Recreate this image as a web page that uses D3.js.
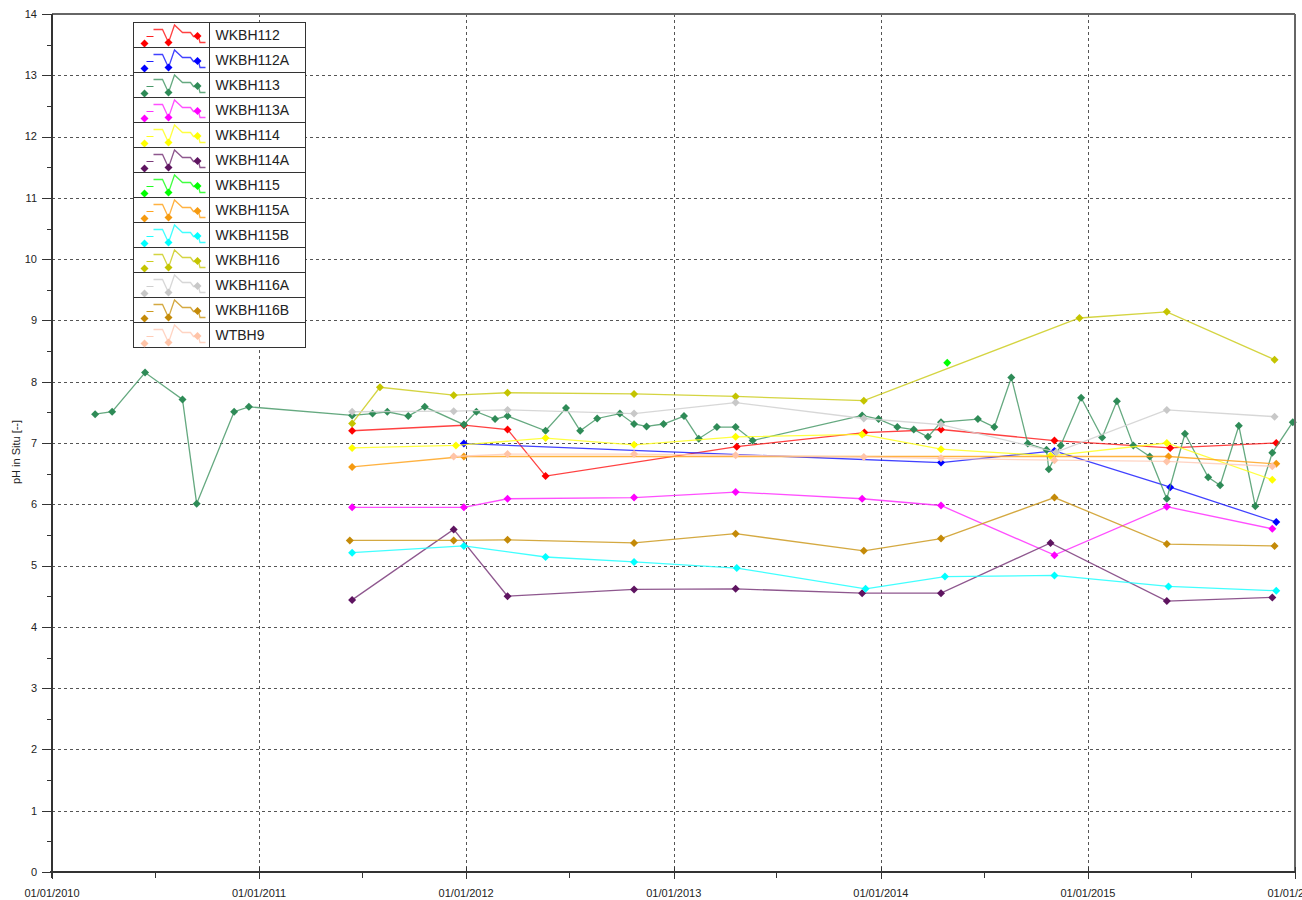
<!DOCTYPE html>
<html>
<head>
<meta charset="utf-8">
<script src="https://cdn.jsdelivr.net/npm/d3@7"></script>
<style>
  body { margin: 0; background: #fff; }
  svg { display: block; font-family: Arial, "Liberation Sans", sans-serif; }
</style>
</head>
<body>
<svg id="chart"></svg>
<script>
// ===========================
// 1. Data
// ===========================
const seriesNames = ["WKBH112", "WKBH112A", "WKBH113", "WKBH113A", "WKBH114", "WKBH114A",
  "WKBH115", "WKBH115A", "WKBH115B", "WKBH116", "WKBH116A", "WKBH116B", "WTBH9"];

const WKBH112 = [["2011-06-14",7.20],["2011-12-28",7.29],["2012-03-14",7.22],["2012-05-20",6.46],
  ["2013-04-22",6.94],["2013-12-03",7.17],["2014-04-17",7.22],["2014-11-03",7.04],["2015-05-26",6.92],["2015-11-29",7.00]];

const WKBH112A = [["2011-12-28",6.99],["2014-04-17",6.68],["2014-11-03",6.87],["2015-05-26",6.28],["2015-11-29",5.71]];

const WKBH113 = [["2010-03-18",7.47],["2010-04-17",7.51],["2010-06-14",8.15],["2010-08-19",7.71],["2010-09-13",6.01],
  ["2010-11-18",7.51],["2010-12-14",7.59],["2011-06-14",7.45],["2011-07-20",7.48],["2011-08-15",7.51],
  ["2011-09-21",7.44],["2011-10-20",7.59],["2011-12-28",7.30],["2012-01-19",7.51],["2012-02-21",7.39],
  ["2012-03-14",7.44],["2012-05-20",7.20],["2012-06-25",7.57],["2012-07-20",7.20],["2012-08-19",7.40],
  ["2012-09-28",7.48],["2012-10-23",7.31],["2012-11-14",7.27],["2012-12-14",7.31],["2013-01-19",7.44],
  ["2013-02-14",7.07],["2013-03-18",7.26],["2013-04-20",7.26],["2013-05-20",7.04],["2013-11-29",7.45],
  ["2013-12-28",7.39],["2014-01-30",7.26],["2014-02-28",7.22],["2014-03-25",7.10],["2014-04-17",7.34],
  ["2014-06-21",7.39],["2014-07-20",7.26],["2014-08-19",8.07],["2014-09-17",6.99],["2014-10-20",6.89],
  ["2014-10-24",6.57],["2014-11-14",6.96],["2014-12-20",7.74],["2015-01-26",7.09],["2015-02-21",7.68],
  ["2015-03-22",6.96],["2015-04-20",6.78],["2015-05-20",6.09],["2015-06-21",7.15],["2015-08-01",6.44],
  ["2015-08-22",6.31],["2015-09-24",7.28],["2015-10-23",5.97],["2015-11-22",6.84],["2015-12-28",7.34]];

const WKBH113A = [["2011-06-14",5.95],["2011-12-28",5.95],["2012-03-14",6.09],["2012-10-23",6.11],["2013-04-20",6.20],
  ["2013-11-29",6.09],["2014-04-17",5.98],["2014-11-03",5.17],["2015-05-20",5.96],["2015-11-22",5.60]];

const WKBH114 = [["2011-06-14",6.92],["2011-12-14",6.96],["2012-05-20",7.08],["2012-10-23",6.97],["2013-04-20",7.10],
  ["2013-11-29",7.14],["2014-04-17",6.90],["2014-10-27",6.79],["2015-05-20",7.00],["2015-11-22",6.40]];

const WKBH114A = [["2011-06-14",4.44],["2011-12-10",5.59],["2012-03-14",4.50],["2012-10-23",4.61],["2013-04-20",4.62],
  ["2013-11-29",4.55],["2014-04-17",4.55],["2014-10-27",5.37],["2015-05-20",4.42],["2015-11-22",4.48]];

const WKBH115 = [["2014-04-28",8.31]];

const WKBH115A = [["2011-06-14",6.61],["2011-12-28",6.78],["2015-05-23",6.78],["2015-11-29",6.66]];

const WKBH115B = [["2011-06-14",5.21],["2011-12-28",5.32],["2012-05-20",5.14],["2012-10-23",5.06],["2013-04-22",4.96],
  ["2013-12-05",4.62],["2014-04-24",4.82],["2014-11-03",4.84],["2015-05-23",4.66],["2015-11-29",4.59]];

const WKBH116 = [["2011-06-14",7.32],["2011-08-02",7.91],["2011-12-10",7.78],["2012-03-14",7.82],["2012-10-23",7.80],
  ["2013-04-20",7.76],["2013-12-02",7.69],["2014-12-17",9.04],["2015-05-20",9.14],["2015-11-26",8.36]];

const WKBH116A = [["2011-06-14",7.51],["2011-12-10",7.52],["2012-03-14",7.54],["2012-10-23",7.48],["2013-04-20",7.66],
  ["2013-12-02",7.40],["2014-04-17",7.30],["2014-11-06",6.85],["2015-05-20",7.54],["2015-11-26",7.43]];

const WKBH116B = [["2011-06-10",5.41],["2011-12-10",5.41],["2012-03-14",5.42],["2012-10-23",5.37],["2013-04-20",5.52],
  ["2013-12-02",5.24],["2014-04-17",5.44],["2014-11-03",6.11],["2015-05-20",5.35],["2015-11-26",5.32]];

const WTBH9 = [["2011-12-10",6.78],["2012-03-14",6.82],["2012-10-23",6.82],["2013-04-20",6.80],["2013-12-02",6.77],
  ["2014-04-17",6.75],["2014-11-03",6.72],["2015-05-20",6.70],["2015-11-22",6.62]];

const seriesData = [WKBH112, WKBH112A, WKBH113, WKBH113A, WKBH114, WKBH114A,
  WKBH115, WKBH115A, WKBH115B, WKBH116, WKBH116A, WKBH116B, WTBH9];

// colours: [line, marker]
const seriesColors = {
  WKBH112: ["#ff2020", "#ff0000"],
  WKBH112A: ["#2020ff", "#0000ff"],
  WKBH113: ["#4a9a6a", "#2e8b57"],
  WKBH113A: ["#ff30ff", "#ff00ff"],
  WKBH114: ["#ffff20", "#ffff00"],
  WKBH114A: ["#7a3a7a", "#5e1460"],
  WKBH115: ["#20ff20", "#00ff00"],
  WKBH115A: ["#ffa520", "#f59a10"],
  WKBH115B: ["#20ffff", "#00ffff"],
  WKBH116: ["#cccc20", "#c4c400"],
  WKBH116A: ["#d0d0d0", "#c8c8c8"],
  WKBH116B: ["#cc9a20", "#c48a08"],
  WTBH9: ["#ffcdb8", "#ffc4a8"]
};

const yTicks = d3.range(0, 15);
const yGridValues = d3.range(1, 14);

// ===========================
// 2. Layout
// ===========================
const width = 1302, height = 900;
const plot = { left: 52, right: 1295, top: 14, bottom: 872 };
const parse = d3.timeParse("%Y-%m-%d");

const svg = d3.select("#chart")
  .attr("width", width)
  .attr("height", height);

svg.append("rect")
  .attr("width", width)
  .attr("height", height)
  .attr("fill", "#fff");

const x = d3.scaleTime()
  .domain([parse("2010-01-01"), parse("2016-01-01")])
  .range([plot.left, plot.right]);

const y = d3.scaleLinear()
  .domain([0, 14])
  .range([plot.bottom, plot.top]);

const yearTicks = x.ticks(d3.timeYear.every(1));
const halfYearTicks = x.ticks(d3.timeMonth.every(6)).filter(d => d.getMonth() === 6);

// ===========================
// 3. Grid
// ===========================
const grid = svg.append("g")
  .attr("stroke", "#555")
  .attr("stroke-width", 1)
  .attr("stroke-dasharray", "3,3");

grid.selectAll(".hgrid")
  .data(yGridValues)
  .enter()
  .append("line")
  .attr("x1", plot.left)
  .attr("x2", plot.right)
  .attr("y1", d => Math.round(y(d)) + 0.5)
  .attr("y2", d => Math.round(y(d)) + 0.5);

grid.selectAll(".vgrid")
  .data(yearTicks.slice(1, -1))
  .enter()
  .append("line")
  .attr("x1", d => Math.round(x(d)) + 0.5)
  .attr("x2", d => Math.round(x(d)) + 0.5)
  .attr("y1", plot.top)
  .attr("y2", plot.bottom);

// ===========================
// 4. Series
// ===========================
const line = d3.line()
  .x(d => x(d.date))
  .y(d => y(d.value));

const diamond = d3.symbol().type(d3.symbolSquare).size(32);

seriesNames.forEach((name, i) => {
  const values = seriesData[i].map(([date, value]) => ({ date: parse(date), value }));
  const [lineColor, markColor] = seriesColors[name];
  const g = svg.append("g").attr("class", "series");

  g.append("path")
    .datum(values)
    .attr("fill", "none")
    .attr("stroke", lineColor)
    .attr("stroke-opacity", 0.85)
    .attr("stroke-width", 1.3)
    .attr("d", line);

  g.selectAll(".mark")
    .data(values)
    .enter()
    .append("path")
    .attr("d", diamond)
    .attr("transform", d => `translate(${x(d.date)},${y(d.value)}) rotate(45)`)
    .attr("fill", markColor);
});

// ===========================
// 5. Frame and axes
// ===========================
svg.append("line")
  .attr("x1", plot.left).attr("x2", plot.right)
  .attr("y1", plot.top).attr("y2", plot.top)
  .attr("stroke", "#666").attr("stroke-width", 2);
svg.append("line")
  .attr("x1", plot.right).attr("x2", plot.right)
  .attr("y1", plot.top).attr("y2", plot.bottom)
  .attr("stroke", "#666").attr("stroke-width", 2);

// Y axis
svg.append("line")
  .attr("x1", plot.left).attr("x2", plot.left)
  .attr("y1", plot.top).attr("y2", plot.bottom + 6)
  .attr("stroke", "#333").attr("stroke-width", 2);

svg.selectAll(".ymajor")
  .data(yTicks)
  .enter()
  .append("line")
  .attr("x1", plot.left - 10).attr("x2", plot.left)
  .attr("y1", d => Math.round(y(d)) + 0.5)
  .attr("y2", d => Math.round(y(d)) + 0.5)
  .attr("stroke", "#333");

svg.selectAll(".yminor")
  .data(yTicks.slice(0, -1).map(d => d + 0.5))
  .enter()
  .append("line")
  .attr("x1", plot.left - 5).attr("x2", plot.left)
  .attr("y1", d => Math.round(y(d)) + 0.5)
  .attr("y2", d => Math.round(y(d)) + 0.5)
  .attr("stroke", "#333");

svg.selectAll(".ylabel")
  .data(yTicks)
  .enter()
  .append("text")
  .attr("x", 37)
  .attr("y", d => y(d))
  .attr("dy", "0.35em")
  .attr("text-anchor", "end")
  .style("font-size", "11px")
  .attr("fill", "#222")
  .text(d => d);

svg.append("text")
  .attr("transform", "rotate(-90)")
  .attr("x", -452)
  .attr("y", 20)
  .attr("text-anchor", "middle")
  .style("font-size", "11px")
  .attr("fill", "#222")
  .text("pH in Situ [--]");

// X axis
svg.append("line")
  .attr("x1", plot.left - 2).attr("x2", plot.right)
  .attr("y1", plot.bottom).attr("y2", plot.bottom)
  .attr("stroke", "#333").attr("stroke-width", 2);

svg.selectAll(".xmajor")
  .data(yearTicks)
  .enter()
  .append("line")
  .attr("x1", d => Math.round(x(d)) + 0.5)
  .attr("x2", d => Math.round(x(d)) + 0.5)
  .attr("y1", plot.bottom - 5)
  .attr("y2", plot.bottom + 7)
  .attr("stroke", "#333");

svg.selectAll(".xminor")
  .data(halfYearTicks)
  .enter()
  .append("line")
  .attr("x1", d => Math.round(x(d)) + 0.5)
  .attr("x2", d => Math.round(x(d)) + 0.5)
  .attr("y1", plot.bottom)
  .attr("y2", plot.bottom + 6)
  .attr("stroke", "#333");

svg.selectAll(".xlabel")
  .data(yearTicks)
  .enter()
  .append("text")
  .attr("x", d => x(d))
  .attr("y", 897)
  .attr("text-anchor", "middle")
  .style("font-size", "11px")
  .attr("fill", "#222")
  .text(d3.timeFormat("%d/%m/%Y"));

// ===========================
// 6. Legend
// ===========================
const legendX = 133.5, legendY = 22.5, rowH = 25, iconW = 76, legendW = 172;
const iconLine = [[20, 7], [29, 7], [35, 20], [41, 2.5], [49, 10], [57, 10], [60, 14], [65, 14], [66.5, 20], [72, 20]];
const iconMarks = [[11, 21], [35, 20], [64, 13.5]];

const legend = svg.append("g")
  .attr("transform", `translate(${legendX},${legendY})`);

legend.append("rect")
  .attr("width", legendW)
  .attr("height", rowH * seriesNames.length)
  .attr("fill", "#fff")
  .attr("stroke", "#333");

seriesNames.forEach((name, i) => {
  const [lineColor, markColor] = seriesColors[name];
  const row = legend.append("g")
    .attr("transform", `translate(0,${i * rowH})`);

  if (i > 0) {
    row.append("line")
      .attr("x1", 0).attr("x2", legendW)
      .attr("y1", 0).attr("y2", 0)
      .attr("stroke", "#333");
  }

  row.append("line")
    .attr("x1", 13).attr("x2", 20)
    .attr("y1", 14).attr("y2", 14)
    .attr("stroke", lineColor);

  row.append("path")
    .attr("d", d3.line()(iconLine))
    .attr("fill", "none")
    .attr("stroke", lineColor)
    .attr("stroke-opacity", 0.85)
    .attr("stroke-width", 1.3);

  iconMarks.forEach(([mx, my]) => {
    row.append("path")
      .attr("d", diamond)
      .attr("transform", `translate(${mx},${my}) rotate(45)`)
      .attr("fill", markColor);
  });

  row.append("text")
    .attr("x", iconW + 6)
    .attr("y", rowH / 2)
    .attr("dy", "0.36em")
    .style("font-size", "14px")
    .attr("fill", "#222")
    .text(name);
});

legend.append("line")
  .attr("x1", iconW).attr("x2", iconW)
  .attr("y1", 0).attr("y2", rowH * seriesNames.length)
  .attr("stroke", "#333");
</script>
</body>
</html>
